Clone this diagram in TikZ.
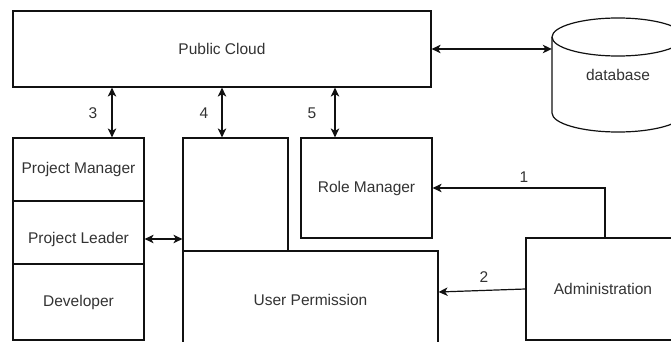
\documentclass[tikz,border=0pt]{standalone}
\usepackage{fontspec}
\setmainfont{Liberation Sans}
\usetikzlibrary{arrows.meta}
\definecolor{ink}{HTML}{111111}
\definecolor{txtgrey}{HTML}{333333}
\begin{document}
\begin{tikzpicture}[x=1pt,y=-1pt,
  every node/.style={font=\fontsize{15.5}{18}\selectfont, text=txtgrey},
  box/.style={draw=ink, line width=1.2pt, rectangle, inner sep=0pt},
  txt/.style={inner sep=0pt},
  lbl/.style={inner sep=0pt},
  link/.style={draw=ink, line width=1.2pt, -{Stealth[length=9pt,width=8.5pt,inset=2.5pt]}},
  biarrow/.style={draw=ink, line width=1.2pt, {Stealth[length=9pt,width=8.5pt,inset=2.5pt]}-{Stealth[length=9pt,width=8.5pt,inset=2.5pt]}}]
\useasboundingbox (0,0) rectangle (671,342);
\clip (0,0) rectangle (671,342);
\fill[white] (0,0) rectangle (671,342);

% top tier
\node[box, minimum width=418pt, minimum height=76pt] (cloud) at (222,49) {Public Cloud};

% database cylinder: outline first, then the labelled node on top
\draw[ink, line width=1.2pt, fill=white]
  (552,37) -- (552,113) arc[start angle=180, end angle=360, x radius=66pt, y radius=19pt]
  -- (684,37) arc[start angle=0, end angle=180, x radius=66pt, y radius=19pt] -- cycle;
\draw[ink, line width=1.2pt] (552,37) arc[start angle=180, end angle=360, x radius=66pt, y radius=19pt];
\node[txt, minimum width=132pt, minimum height=114pt] (db) at (618,75) {database};

% role stack on the left
\node[box, minimum width=131pt, minimum height=63pt] (pm) at (78.5,169.5) {Project Manager};
\node[box, minimum width=131pt, minimum height=63pt] (pl) at (78.5,232.5) {};
\node[txt] (pltext) at (78.5,239) {Project Leader};
\node[box, minimum width=131pt, minimum height=76pt] (dev) at (78.5,302) {Developer};

% permission blocks
\node[box, minimum width=105pt, minimum height=113pt] (upper) at (235.5,194.5) {};
\node[box, minimum width=255pt, minimum height=98pt] (perm) at (310.5,300) {User Permission};
\node[box, minimum width=131pt, minimum height=100pt] (role) at (366.5,188) {Role Manager};
\node[box, minimum width=154pt, minimum height=102pt] (admin) at (603,289) {Administration};

% connectors
\draw[biarrow] (cloud.east) -- (cloud.east -| db.west);
\draw[biarrow] ([xshift=33.5pt]pm.north |- cloud.south) -- ([xshift=33.5pt]pm.north);
\draw[biarrow] ([xshift=-13.5pt]upper.north |- cloud.south) -- ([xshift=-13.5pt]upper.north);
\draw[biarrow] ([xshift=-31.5pt]role.north |- cloud.south) -- ([xshift=-31.5pt]role.north);
\draw[biarrow] ([yshift=-6.5pt]pl.east) -- ([yshift=-6.5pt]pl.east -| upper.west);
\draw[link] ([xshift=2pt]admin.north) |- (role.east);
\draw[link] (admin.west) -- ([yshift=8pt]perm.east);

% step numbers
\node[lbl] at (93,113) {3};
\node[lbl] at (204,113) {4};
\node[lbl] at (312,113) {5};
\node[lbl] at (524,177) {1};
\node[lbl] at (484,277) {2};
\end{tikzpicture}
\end{document}
